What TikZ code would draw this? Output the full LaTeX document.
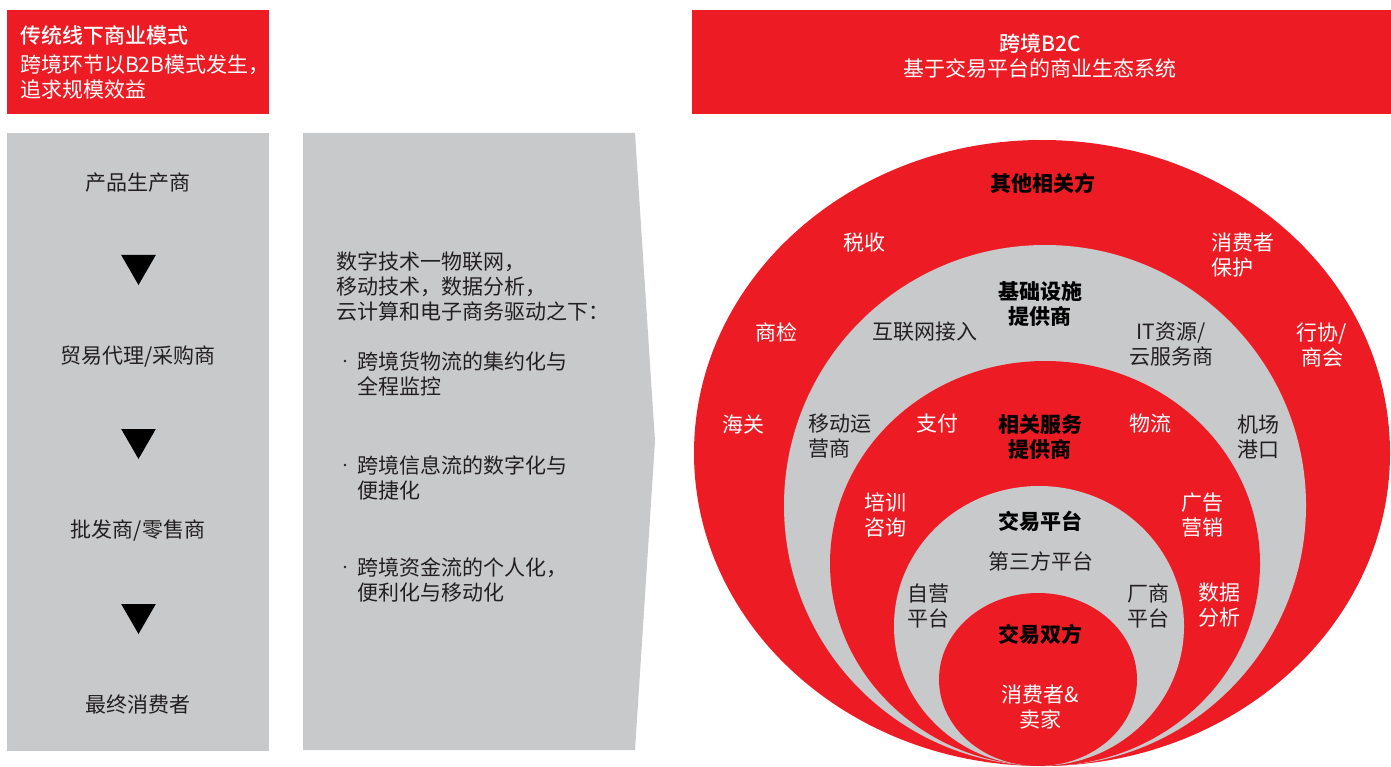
\documentclass[tikz,border=0pt]{standalone}
\usepackage{fontspec}
\setmainfont{Noto Sans CJK SC}
\newfontfamily\midfont{Noto Sans CJK SC Medium}
\usetikzlibrary{shapes.geometric}
\definecolor{bgred}{HTML}{ED1C24}
\definecolor{panelgray}{HTML}{C8C9CB}
\definecolor{inkgray}{HTML}{231F20}

\begin{document}
\begin{tikzpicture}[x=1pt, y=-1pt,
  every node/.style = {inner sep=0pt, font=\fontsize{21}{25}\selectfont},
  dark/.style = {text=inkgray, align=center},
  light/.style = {text=white, align=center},
  head/.style = {text=black, align=center, font=\fontsize{21}{25}\selectfont\bfseries},
  listtxt/.style = {text=inkgray, align=left, anchor=west},
  downtri/.style = {regular polygon, regular polygon sides=3,
    shape border rotate=180, fill=black, minimum size=40pt}]
  \useasboundingbox (0,0) rectangle (1391,767);

  \fill[bgred] (7,10) rectangle (269,114);
  \fill[bgred] (692,10) rectangle (1391,114);
  \fill[panelgray] (7,133) rectangle (269,751);
  \fill[panelgray] (303,133) -- (635,133) -- (655,441) -- (635,750) -- (303,750) -- cycle;

  \fill[bgred] (1042,453) ellipse [x radius=348pt, y radius=313pt];
  \fill[panelgray] (1045,505.5) ellipse [x radius=261pt, y radius=260.5pt];
  \fill[bgred] (1045,563.5) ellipse [x radius=215pt, y radius=202.5pt];
  \fill[panelgray] (1039,626) ellipse [x radius=145pt, y radius=140pt];
  \fill[bgred] (1038,679.5) ellipse [x radius=99pt, y radius=86.5pt];

  \node[light, anchor=west] (oldtitle) at (20,35) {\midfont 传统线下商业模式};
  \node[light, anchor=west, align=left] (oldsub) at (20,77) {跨境环节以B2B模式发生，\\追求规模效益};
  \node[light] (newtitle) at (1040,55.5) {{\midfont 跨境B2C}\\基于交易平台的商业生态系统};

  \node[dark] (maker) at (138,183) {产品生产商};
  \node[downtri] (tri1) at (138.5,265) {};
  \node[dark] (agent) at (138,357) {贸易代理/采购商};
  \node[downtri] (tri2) at (138.5,439) {};
  \node[dark] (retail) at (138,531) {批发商/零售商};
  \node[downtri] (tri3) at (138.5,614) {};
  \node[dark] (buyer) at (138,705) {最终消费者};

  \node[listtxt] (drivers) at (336,286) {数字技术一物联网，\\移动技术，数据分析，\\云计算和电子商务驱动之下：};
  \fill[inkgray] (345,361) circle (1.3pt);
  \node[listtxt] (goods) at (357,373.5) {跨境货物流的集约化与\\全程监控};
  \fill[inkgray] (345,465) circle (1.3pt);
  \node[listtxt] (info) at (357,477.5) {跨境信息流的数字化与\\便捷化};
  \fill[inkgray] (345,567) circle (1.3pt);
  \node[listtxt] (money) at (357,579.5) {跨境资金流的个人化，\\便利化与移动化};

  \node[head] (others) at (1043,183) {其他相关方};
  \node[light] (tax) at (864,243) {税收};
  \node[light, anchor=west, align=left] (protect) at (1211,255.5) {消费者\\保护};
  \node[light] (inspect) at (776,332) {商检};
  \node[light] (assoc) at (1322,344.5) {行协/\\商会};
  \node[light] (customs) at (743,424) {海关};

  \node[head] (infra) at (1040,303.5) {基础设施\\提供商};
  \node[dark] (net) at (925,332) {互联网接入};
  \node[dark] (cloud) at (1171,344.5) {IT资源/\\云服务商};
  \node[dark, anchor=west, align=left] (mobile) at (808,436.5) {移动运\\营商};
  \node[dark] (port) at (1258,436.5) {机场\\港口};

  \node[head] (service) at (1040,436.5) {相关服务\\提供商};
  \node[light] (pay) at (937,424) {支付};
  \node[light] (logi) at (1150,424) {物流};
  \node[light] (train) at (885,515.5) {培训\\咨询};
  \node[light] (adv) at (1202,515.5) {广告\\营销};
  \node[light] (data) at (1219,605.5) {数据\\分析};

  \node[head] (platform) at (1040,521) {交易平台};
  \node[dark] (third) at (1041,561) {第三方平台};
  \node[dark] (own) at (928,605.5) {自营\\平台};
  \node[dark] (vendor) at (1148,605.5) {厂商\\平台};

  \node[head] (parties) at (1040,634) {交易双方};
  \node[light] (trader) at (1040,707.5) {消费者\&\\卖家};
\end{tikzpicture}
\end{document}
